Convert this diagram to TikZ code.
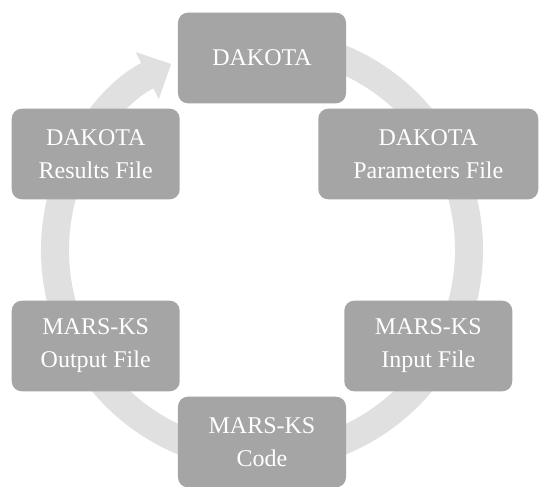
\documentclass[tikz,border=0pt]{standalone}
\usepackage{fontspec}
\setmainfont{Liberation Serif}
\usetikzlibrary{arrows.meta}
\definecolor{boxgrey}{HTML}{A5A5A5}
\definecolor{ringgrey}{HTML}{E0E0E0}
\tikzset{
  stage/.style={rectangle, rounded corners=7.5pt, fill=boxgrey, text=white,
    minimum width=126pt, minimum height=68pt, align=center, inner sep=2pt,
    font=\fontsize{18}{24.75}\selectfont},
  stagewide/.style={stage, minimum width=165pt},
  ring/.style={line width=21pt, ringgrey, -{Triangle[width=38pt, length=20pt]}},
}
\begin{document}
\begin{tikzpicture}
\useasboundingbox (-196.5pt,-177pt) rectangle (207.75pt,187.5pt);
% the loop behind the stages
\draw[ring] (80:155.25pt) arc[start angle=80, end angle=-244, radius=155.25pt];

\node[stage] (dakota) at (90:144pt) {DAKOTA};
\node[stagewide] (params) at (30:144pt) {DAKOTA\\Parameters File};
\node[stage] (input) at (-30:144pt) {MARS-KS\\Input File};
\node[stage] (code) at (-90:144pt) {MARS-KS\\Code};
\node[stage] (output) at (-150:144pt) {MARS-KS\\Output File};
\node[stage] (results) at (150:144pt) {DAKOTA\\Results File};
\end{tikzpicture}
\end{document}
